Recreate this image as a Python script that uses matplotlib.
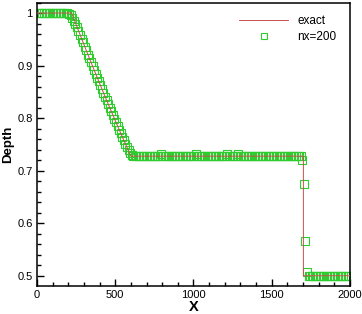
import numpy as np
import matplotlib
matplotlib.use('Agg')
import matplotlib.pyplot as plt
from matplotlib.ticker import MultipleLocator, FormatStrFormatter

plt.rcParams['font.family'] = ['Liberation Sans', 'DejaVu Sans']

# exact solution
exact_x = [0, 222, 250, 300, 350, 400, 450, 500, 550, 600, 1702, 1702, 2000]
exact_h = [1.0, 1.0, 0.9783, 0.9403, 0.9029, 0.8663, 0.8305, 0.7955, 0.7612,
           0.7276, 0.7276, 0.5, 0.5]

# numerical solution, nx=200 cells on [0, 2000]
cell_x = np.arange(5, 2000, 10)
left_state = [1.0] * 20                      # x = 5 .. 195
rarefaction = [0.999, 0.996, 0.991, 0.985, 0.979, 0.973, 0.966, 0.959, 0.951,
               0.944, 0.936, 0.929, 0.921, 0.914, 0.906, 0.899, 0.892, 0.884,
               0.877, 0.870, 0.863, 0.855, 0.848, 0.841, 0.834, 0.827, 0.820,
               0.813, 0.806, 0.799, 0.792, 0.785, 0.778, 0.771, 0.764, 0.758,
               0.751, 0.745, 0.739, 0.733, 0.730, 0.728]   # x = 205 .. 615
plateau = [0.728] * 17 + [0.731] + [0.728] * 21 + [0.731] + [0.728] * 19 \
    + [0.731] + [0.728] * 6 + [0.731] + [0.728] * 39        # x = 625 .. 1665
shock = [0.727, 0.720, 0.674, 0.567, 0.507]  # x = 1675 .. 1715
right_state = [0.5] * 28                     # x = 1725 .. 1995
cell_h = left_state + rarefaction + plateau + shock + right_state

fig = plt.figure(figsize=(3.62, 3.14), dpi=100)
ax = fig.add_axes([0.102, 0.090, 0.865, 0.902])

ax.plot(cell_x, cell_h[:len(cell_x)], linestyle='none', marker='s', ms=5.8,
        mfc='none', mec='#2ecc2e', mew=0.8, label='nx=200', zorder=2)
ax.plot(exact_x, exact_h, color='#c85050', lw=0.7, label='exact', zorder=3)

ax.set_xlim(0, 2000)
ax.set_ylim(0.481, 1.02)
ax.xaxis.set_major_locator(MultipleLocator(500))
ax.xaxis.set_minor_locator(MultipleLocator(100))
ax.yaxis.set_major_locator(MultipleLocator(0.1))
ax.yaxis.set_minor_locator(MultipleLocator(0.02))
ax.yaxis.set_major_formatter(FormatStrFormatter('%g'))
ax.tick_params(which='both', direction='in', top=False, right=False,
               labelsize=8, width=1, pad=3)
ax.tick_params(which='major', length=5)
ax.tick_params(which='minor', length=3)
for s in ax.spines.values():
    s.set_linewidth(1.1)

ax.set_xlabel('X', fontsize=10.5, fontweight='bold', labelpad=0)
ax.set_ylabel('Depth', fontsize=9.5, fontweight='bold', labelpad=2)

handles, labels = ax.get_legend_handles_labels()
ax.legend(handles[::-1], labels[::-1], loc='upper left',
          bbox_to_anchor=(0.645, 0.955), frameon=False, fontsize=8.5,
          handlelength=4.2, handletextpad=0.75, labelspacing=0.35,
          borderpad=0, borderaxespad=0, markerscale=0.75)

fig.savefig('out.png', dpi=100)
